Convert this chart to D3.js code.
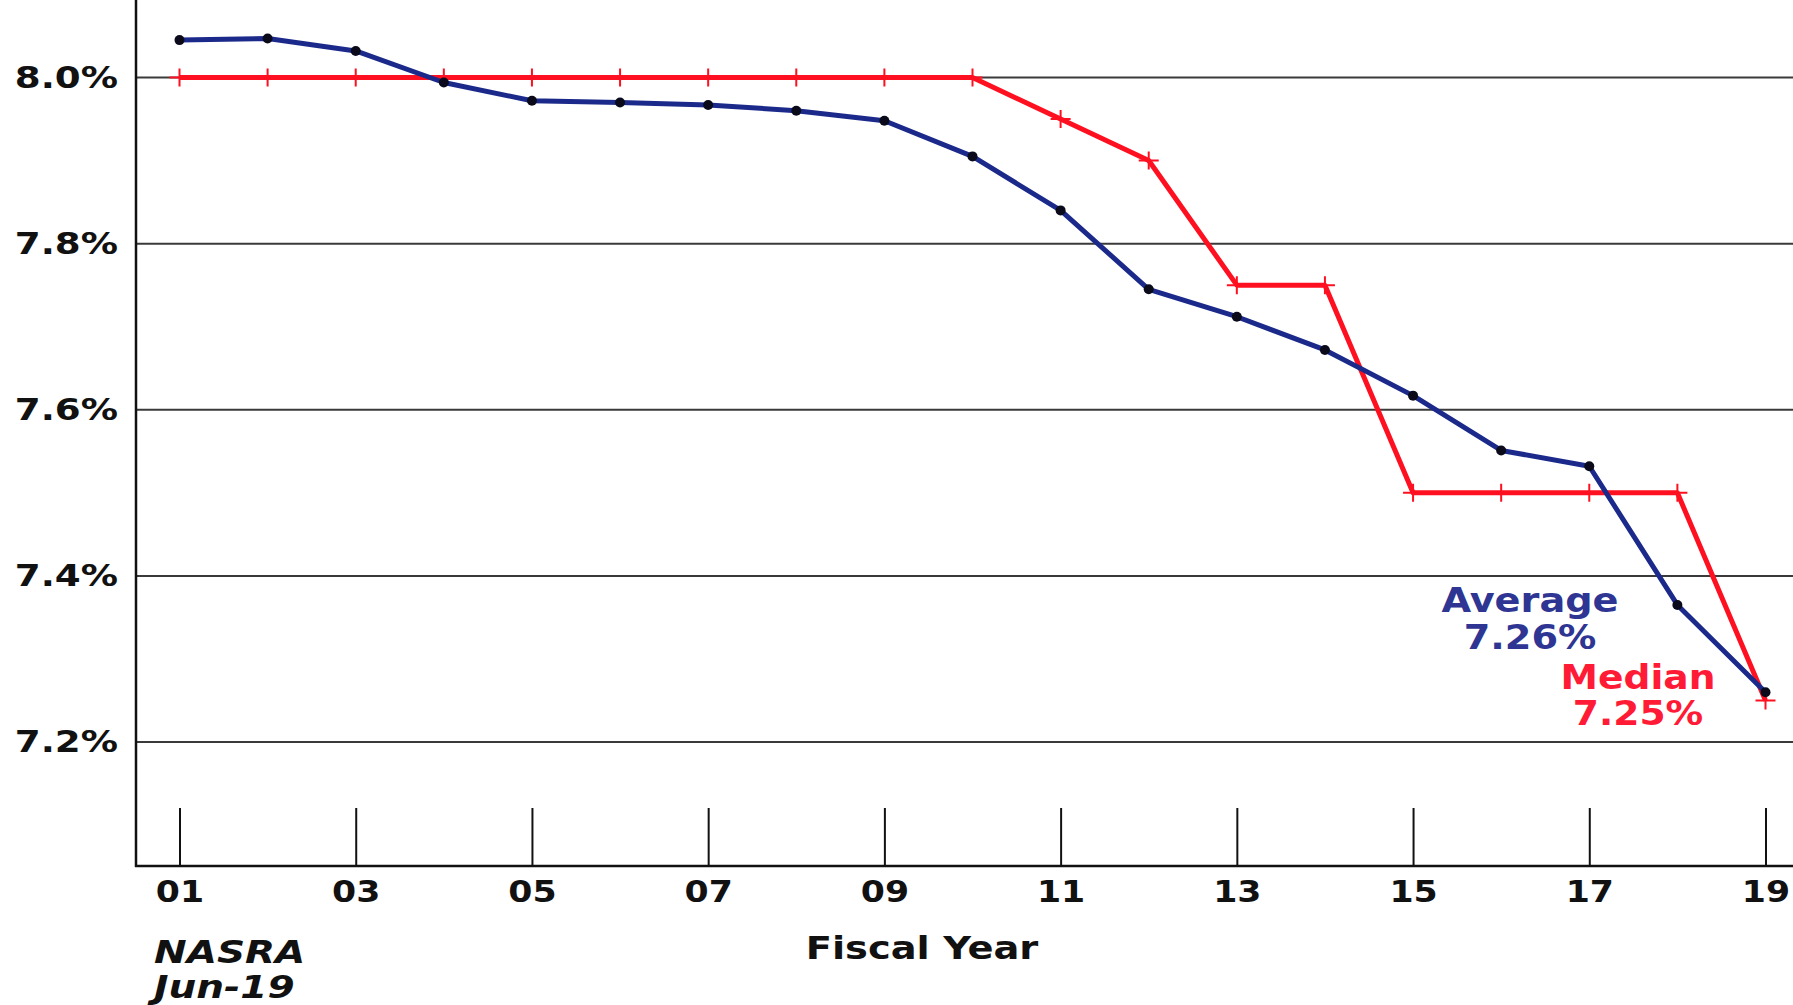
<!DOCTYPE html>
<html>
<head>
<meta charset="utf-8">
<script src="https://cdn.jsdelivr.net/npm/d3@7/dist/d3.min.js"></script>
<style>
  html, body { margin: 0; padding: 0; background: #ffffff; }
  svg { display: block; }
  text { font-family: "DejaVu Sans", Verdana, sans-serif; font-weight: bold; }
</style>
</head>
<body>
<svg id="chart" width="1793" height="1005"></svg>
<script>
// ---- Data ----
const years = [1, 2, 3, 4, 5, 6, 7, 8, 9, 10, 11, 12, 13, 14, 15, 16, 17, 18, 19];
const averageValues = [8.045, 8.047, 8.032, 7.994, 7.972, 7.970, 7.967, 7.960, 7.948, 7.905,
                       7.840, 7.745, 7.712, 7.672, 7.617, 7.551, 7.532, 7.365, 7.26];
const medianValues = [8.0, 8.0, 8.0, 8.0, 8.0, 8.0, 8.0, 8.0, 8.0, 8.0,
                      7.95, 7.90, 7.75, 7.75, 7.50, 7.50, 7.50, 7.50, 7.25];
const xTickYears = [1, 3, 5, 7, 9, 11, 13, 15, 17, 19];
const xTickLabels = ["01", "03", "05", "07", "09", "11", "13", "15", "17", "19"];
const yTickValues = [7.2, 7.4, 7.6, 7.8, 8.0];
const yTickLabels = ["7.2%", "7.4%", "7.6%", "7.8%", "8.0%"];
const xTitle = "Fiscal Year";
const sourceLines = ["NASRA", "Jun-19"];
const avgLabel = ["Average", "7.26%"];
const medLabel = ["Median", "7.25%"];

// ---- Layout ----
const W = 1793, H = 1005;
const axisX = 136, axisBottom = 866;
const svg = d3.select("#chart");

const x = d3.scaleLinear().domain([1, 19]).range([179.5, 1765.5]);
const y = d3.scaleLinear().domain([7.2, 8.0]).range([742, 77.5]);

const blue = "#1b2a8a", red = "#ff1020";

// gridlines
svg.append("g")
  .selectAll("line")
  .data(yTickValues)
  .join("line")
  .attr("x1", axisX).attr("x2", W)
  .attr("y1", d => y(d)).attr("y2", d => y(d))
  .attr("stroke", "#3a3a3a").attr("stroke-width", 2);

// y labels
svg.append("g")
  .selectAll("text")
  .data(yTickValues)
  .join("text")
  .attr("transform", d => `translate(118,${y(d)}) scale(1.2,1)`)
  .attr("text-anchor", "end")
  .attr("dy", "0.33em")
  .attr("font-size", 31)
  .attr("fill", "#111")
  .text((d, i) => yTickLabels[i]);

// x axis with upward ticks
const xAxis = d3.axisBottom(x)
  .tickValues(xTickYears)
  .tickFormat((d, i) => xTickLabels[i])
  .tickSizeInner(-58)
  .tickSizeOuter(0)
  .tickPadding(14);
const gx = svg.append("g").attr("transform", `translate(0,${axisBottom})`).call(xAxis);
gx.select(".domain").remove();
gx.selectAll(".tick line").attr("stroke", "#111").attr("stroke-width", 2);
gx.selectAll(".tick text")
  .attr("font-size", 31)
  .attr("transform", "scale(1.12,1)")
  .attr("font-family", "DejaVu Sans, sans-serif")
  .attr("font-weight", "bold")
  .attr("fill", "#111");

// axis lines
svg.append("line").attr("x1", axisX).attr("x2", axisX).attr("y1", 0).attr("y2", axisBottom + 1)
  .attr("stroke", "#111").attr("stroke-width", 2.5);
svg.append("line").attr("x1", axisX - 1).attr("x2", W).attr("y1", axisBottom).attr("y2", axisBottom)
  .attr("stroke", "#111").attr("stroke-width", 2.5);

// median line
const line = d3.line().x(d => x(d[0])).y(d => y(d[1]));
const medData = years.map((yr, i) => [yr, medianValues[i]]);
const avgData = years.map((yr, i) => [yr, averageValues[i]]);

svg.append("path").datum(medData).attr("d", line)
  .attr("fill", "none").attr("stroke", red).attr("stroke-width", 5).attr("stroke-linejoin", "round");
svg.append("g").selectAll("path").data(medData).join("path")
  .attr("d", d => `M${x(d[0]) - 10},${y(d[1])}H${x(d[0]) + 10}M${x(d[0])},${y(d[1]) - 9}V${y(d[1]) + 9}`)
  .attr("stroke", red).attr("stroke-width", 2);

// average line
svg.append("path").datum(avgData).attr("d", line)
  .attr("fill", "none").attr("stroke", blue).attr("stroke-width", 5).attr("stroke-linejoin", "round");
svg.append("g").selectAll("circle").data(avgData).join("circle")
  .attr("cx", d => x(d[0])).attr("cy", d => y(d[1])).attr("r", 5)
  .attr("fill", "#0a0a1a");

// x title
svg.append("text").attr("transform", "translate(922,959) scale(1.2,1)")
  .attr("text-anchor", "middle").attr("font-size", 32).attr("fill", "#111").text(xTitle);

// source
svg.append("g").selectAll("text").data(sourceLines).join("text")
  .attr("transform", (d, i) => `translate(154,${963 + i * 35}) scale(1.22,1)`)
  .attr("font-size", 32).attr("font-style", "italic").attr("fill", "#111").text(d => d);

// annotations
svg.append("g").selectAll("text").data(avgLabel).join("text")
  .attr("transform", (d, i) => `translate(1530,${612 + i * 37}) scale(1.16,1)`)
  .attr("text-anchor", "middle").attr("font-size", 33).attr("fill", "#2e3592").text(d => d);
svg.append("g").selectAll("text").data(medLabel).join("text")
  .attr("transform", (d, i) => `translate(1638,${689 + i * 36}) scale(1.14,1)`)
  .attr("text-anchor", "middle").attr("font-size", 33).attr("fill", "#ff1a35").text(d => d);
</script>
</body>
</html>
